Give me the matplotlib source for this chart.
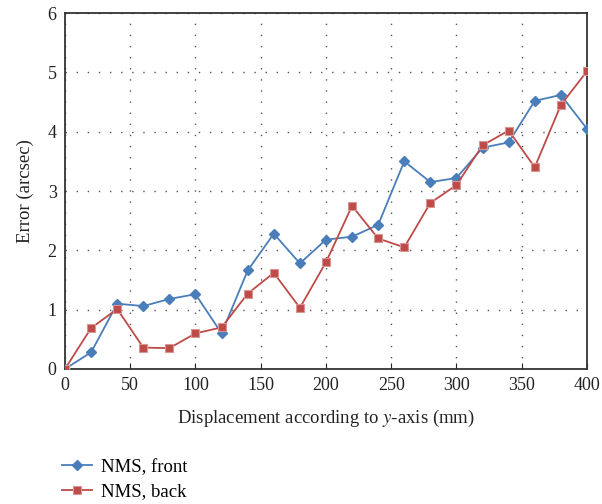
import matplotlib.pyplot as plt
from matplotlib.ticker import MultipleLocator

plt.rcParams['font.family'] = ['Liberation Serif', 'DejaVu Serif']
plt.rcParams['mathtext.fontset'] = 'stix'

# Data
displacement = [0, 20, 40, 60, 80, 100, 120, 140, 160, 180, 200,
                220, 240, 260, 280, 300, 320, 340, 360, 380, 400]
nms_front = [0.0, 0.28, 1.10, 1.06, 1.18, 1.26, 0.60, 1.66, 2.28, 1.78, 2.18,
             2.23, 2.43, 3.50, 3.15, 3.22, 3.73, 3.82, 4.52, 4.62, 4.05]
nms_back = [0.0, 0.69, 1.01, 0.36, 0.35, 0.60, 0.70, 1.27, 1.62, 1.03, 1.80,
            2.75, 2.20, 2.05, 2.80, 3.10, 3.77, 4.02, 3.40, 4.45, 5.02]

blue = "#4a7ebb"
red = "#be4b48"

fig = plt.figure(figsize=(6.02, 5.04), dpi=100)
ax = fig.add_axes([0.108, 0.268, 0.867, 0.706])

ax.plot(displacement, nms_front, color=blue, lw=1.3, marker="D", markersize=5.5,
        markerfacecolor=blue, markeredgecolor=blue, label="NMS, front", zorder=3)
ax.plot(displacement, nms_back, color=red, lw=1.3, marker="s", markersize=6,
        markerfacecolor=red, markeredgecolor="#d99594", markeredgewidth=0.8,
        label="NMS, back", zorder=3)

ax.set_xlim(0, 400)
ax.set_ylim(0, 6)
ax.xaxis.set_major_locator(MultipleLocator(50))
ax.yaxis.set_major_locator(MultipleLocator(1))
ax.grid(True, color="#555555", linestyle=(0, (1, 7)), linewidth=1.0)
ax.tick_params(direction="in", length=4, labelsize=13, colors="#222222", pad=6)
ax.tick_params(axis="y", length=0)

for sp in ax.spines.values():
    sp.set_color("#333333")
    sp.set_linewidth(1.3)

ax.set_xlabel("Displacement according to $\\mathit{y}$-axis (mm)", fontsize=13.5,
              color="#222222", labelpad=10)
ax.set_ylabel("Error (arcsec)", fontsize=13.5, color="#222222", labelpad=10)

fig.legend(loc="upper left", bbox_to_anchor=(0.09, 0.105), frameon=False,
           fontsize=13.5, handlelength=1.6, handletextpad=0.5,
           labelspacing=0.4, borderaxespad=0)

fig.savefig("out.png", dpi=100)
